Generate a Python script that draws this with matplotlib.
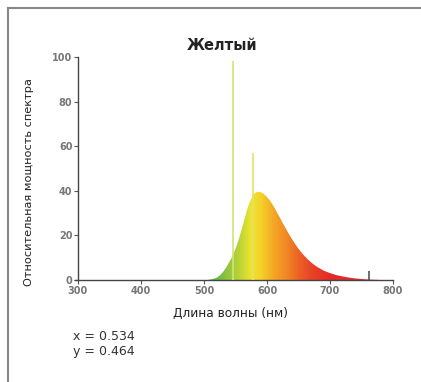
import numpy as np
import matplotlib
matplotlib.use("Agg")
import matplotlib.pyplot as plt
from matplotlib.colors import LinearSegmentedColormap
from matplotlib.lines import Line2D

# spectrum of the yellow lamp (relative power, %)
wavelength = [505, 510, 515, 520, 525, 530, 535, 540, 545, 550, 555, 560, 565, 570, 575,
              580, 585, 590, 595, 600, 605, 610, 615, 620, 625, 630, 635, 640, 645, 650,
              655, 660, 665, 670, 675, 680, 690, 700, 710, 720, 730, 740, 750, 760, 770, 780]
power = [0, 0.2, 0.5, 1, 2, 3.5, 5.5, 8, 10.5, 14, 18, 23, 28, 33, 36.5,
         38.8, 39.6, 39.4, 38.6, 37.2, 35.5, 33.3, 30.8, 28.2, 25.5, 23, 20.5, 18.2, 16, 14,
         12.2, 10.6, 9.2, 7.9, 6.8, 5.8, 4.2, 3.1, 2.2, 1.6, 1.1, 0.7, 0.45, 0.25, 0.1, 0]

# narrow emission lines
line_wl = [546, 578, 762]
line_power = [98, 57, 4]
line_colors = ['#d4e27a', '#e8e060', '#555555']

# fill colour stops along the wavelength
color_wl = [505, 520, 535, 555, 575, 590, 610, 630, 650, 670, 700, 790]
color_hex = ['#4fb04a', '#64b946', '#8cc43e', '#b8d436', '#eee431', '#f5d22a',
             '#f4a824', '#f08a24', '#ec6224', '#e84428', '#e42a26', '#e53030']

yticks = [0, 20, 40, 60, 80, 100]
xticks = [300, 400, 500, 600, 700, 800]

fig = plt.figure(figsize=(4.21, 3.82), dpi=100)
ax = fig.add_axes([78/421, 1-280/382, 315/421, 223/382])

lo, hi = color_wl[0], color_wl[-1]
cmap = LinearSegmentedColormap.from_list(
    'spec', [((w - lo) / (hi - lo), c) for w, c in zip(color_wl, color_hex)])
x_img = np.linspace(lo, hi, 600)
img = ax.imshow(x_img[np.newaxis, :], extent=[lo, hi, 0, 100], aspect='auto',
                cmap=cmap, vmin=lo, vmax=hi, zorder=1, interpolation='bilinear')
fill = ax.fill_between(wavelength, power, 0, color='none', lw=0)
img.set_clip_path(fill.get_paths()[0], transform=ax.transData)

for wl, p, c in zip(line_wl, line_power, line_colors):
    ax.vlines(wl, 0, p, color=c, lw=1.2, zorder=3)

ax.set_xlim(300, 800)
ax.set_ylim(0, 100)
ax.set_xticks(xticks)
ax.set_yticks(yticks)
ax.tick_params(labelsize=7, colors='#555555', length=3, width=0.8, pad=1)
for lab in ax.get_xticklabels() + ax.get_yticklabels():
    lab.set_fontweight('bold')
    lab.set_color('#777777')
for s in ['top', 'right']:
    ax.spines[s].set_visible(False)
for s in ['left', 'bottom']:
    ax.spines[s].set_color('#444444')
    ax.spines[s].set_linewidth(1)
ax.spines['bottom'].set_bounds(296, 800)
ax.patch.set_alpha(0)

fig.text(222/421, 1-45/382, 'Желтый', ha='center', va='center',
         fontsize=10.5, fontweight='bold', color='#222222')
fig.text(230/421, 1-313/382, 'Длина волны (нм)', ha='center', va='center',
         fontsize=8.7, color='#222222')
fig.text(29/421, 1-182/382, 'Относительная мощность спектра', ha='center',
         va='center', rotation=90, fontsize=8.2, color='#222222')
fig.text(73/421, 1-337/382, 'x = 0.534', ha='left', va='center', fontsize=9, color='#333333')
fig.text(73/421, 1-352/382, 'y = 0.464', ha='left', va='center', fontsize=9, color='#333333')

# frame of the card
fig.add_artist(Line2D([8/421, 1], [1-8/382, 1-8/382], color='#888888', lw=1.5))
fig.add_artist(Line2D([8/421, 8/421], [0, 1-8/382], color='#888888', lw=1.5))

fig.savefig('out.png', dpi=100)
